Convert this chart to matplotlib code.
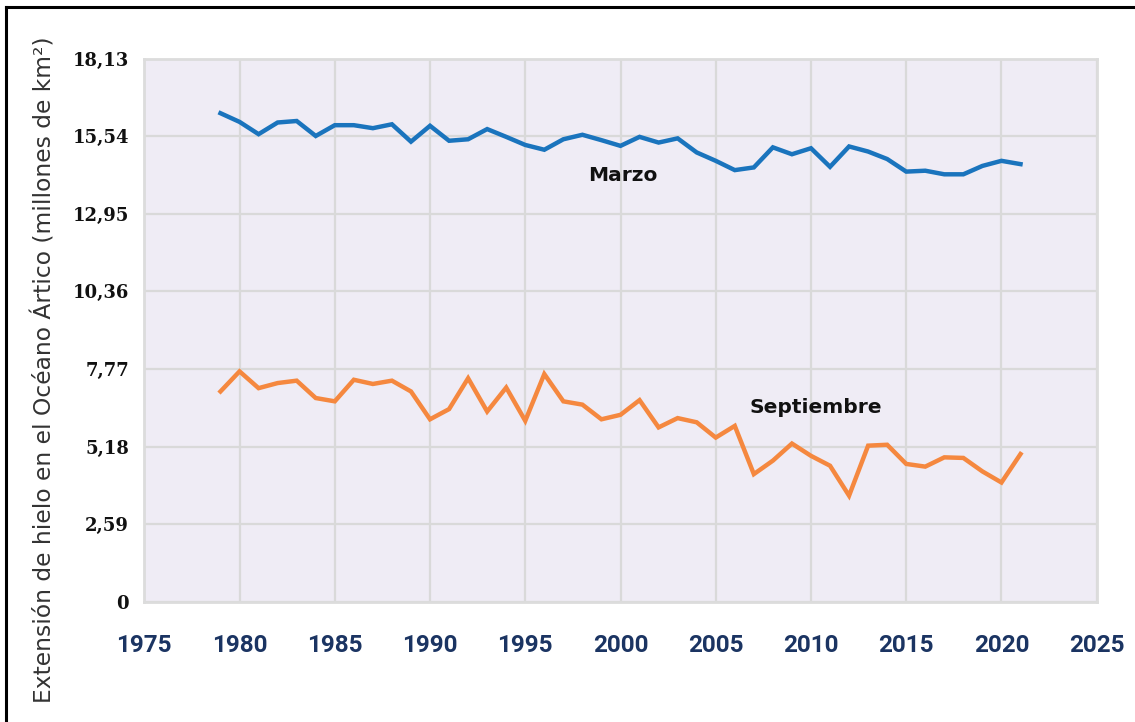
import numpy as np
import matplotlib
matplotlib.use("Agg")
import matplotlib.pyplot as plt
from matplotlib.lines import Line2D

# Extensión de hielo marino ártico (millones de km²)
years = list(range(1979, 2022))
marzo = [16.31, 16.02, 15.61, 16.00, 16.05, 15.55, 15.91, 15.91, 15.81, 15.94,
         15.36, 15.89, 15.39, 15.44, 15.78, 15.52, 15.25, 15.09, 15.44, 15.59,
         15.41, 15.22, 15.52, 15.33, 15.47, 15.00, 14.72, 14.41, 14.50, 15.17,
         14.94, 15.14, 14.52, 15.20, 15.03, 14.78, 14.36, 14.39, 14.27, 14.27,
         14.55, 14.72, 14.61]
septiembre = [7.02, 7.69, 7.13, 7.30, 7.38, 6.80, 6.69, 7.41, 7.27, 7.38,
              7.02, 6.09, 6.43, 7.46, 6.35, 7.15, 6.04, 7.60, 6.69, 6.58,
              6.09, 6.24, 6.73, 5.82, 6.13, 5.99, 5.48, 5.87, 4.26, 4.71,
              5.28, 4.87, 4.54, 3.54, 5.21, 5.24, 4.60, 4.51, 4.82, 4.80,
              4.35, 3.98, 4.93]

yticks = [0, 2.59, 5.18, 7.77, 10.36, 12.95, 15.54, 18.13]
ytick_labels = ["0", "2,59", "5,18", "7,77", "10,36", "12,95", "15,54", "18,13"]
xticks = list(range(1975, 2030, 5))

fig = plt.figure(figsize=(11.35, 7.22), dpi=100)
ax = fig.add_axes([144.3 / 1135, 1 - 601.7 / 722, (1096.7 - 144.3) / 1135, (601.7 - 58.7) / 722])
ax.set_facecolor("#EFECF5")

ax.plot(years, marzo, color="#1A74BD", lw=3.2, solid_joinstyle="miter", zorder=3)
ax.plot(years, septiembre, color="#F5883F", lw=3.2, solid_joinstyle="miter", zorder=3)

ax.set_xlim(1975, 2025)
ax.set_ylim(0, 18.13)
ax.set_xticks(xticks)
ax.set_yticks(yticks)
ax.set_yticklabels(ytick_labels)
ax.grid(True, color="#D9D9D9", lw=1.6, zorder=1)
ax.set_axisbelow(True)
for s in ax.spines.values():
    s.set_color("#DCDCDC")
    s.set_linewidth(2)

ax.tick_params(axis="both", length=0)
ax.tick_params(axis="y", pad=11)
ax.tick_params(axis="x", pad=23)
for lab in ax.get_yticklabels():
    lab.set_fontfamily("DejaVu Serif")
    lab.set_fontweight("bold")
    lab.set_fontsize(13)
    lab.set_color("#111111")
for lab in ax.get_xticklabels():
    lab.set_fontfamily(["Roboto", "DejaVu Sans"])
    lab.set_fontweight("bold")
    lab.set_fontsize(17.5)
    lab.set_color("#1B3462")

ax.text(2000.13, 14.24, "Marzo", ha="center", va="center", fontsize=14.5,
        fontweight="bold", color="#111111")
ax.text(2010.23, 6.50, "Septiembre", ha="center", va="center", fontsize=14.5,
        fontweight="bold", color="#111111")

fig.text(45 / 1135, 1 - 370 / 722, "Extensión de hielo en el Océano Ártico (millones de km²)",
         rotation=90, ha="center", va="center", fontsize=16.8, color="#333333")

# marco de la imagen: solo arriba e izquierda
fig.add_artist(Line2D([6 / 1135, 1], [1 - 7 / 722, 1 - 7 / 722], color="black", lw=2.2,
                      transform=fig.transFigure))
fig.add_artist(Line2D([6 / 1135, 6 / 1135], [0, 1 - 7 / 722], color="black", lw=2.2,
                      transform=fig.transFigure))

fig.savefig("out.png", dpi=100)
